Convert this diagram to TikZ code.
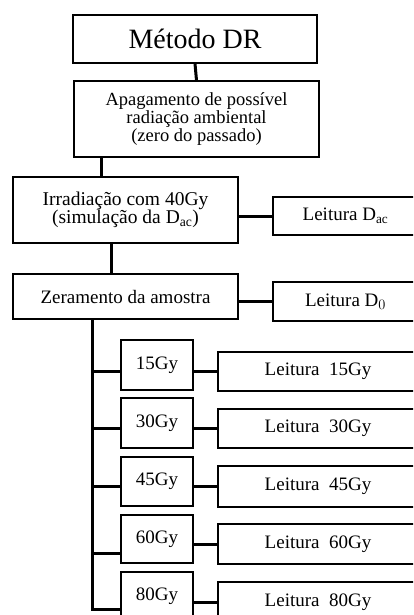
\documentclass[tikz,border=0pt]{standalone}
\usepackage{fontspec}
\setmainfont{Liberation Serif}
\begin{document}
\begin{tikzpicture}[x=1pt,y=-1pt,
  box/.style={draw=black,line width=1.4pt,inner sep=0pt,align=center,
    font=\fontsize{19}{18}\selectfont},
  conn/.style={draw=black,line width=3pt}]
\useasboundingbox (0,0) rectangle (413,615);
\clip (0,0) rectangle (413,615);
\fill[white] (0,0) rectangle (413,615);
% main column
\node[box,minimum width=244pt,minimum height=48pt,font=\fontsize{28}{30}\selectfont] (met) at (195,39) {Método DR};
\node[box,minimum width=245pt,minimum height=76pt,font=\fontsize{18.5}{18}\selectfont] (apa) at (196.5,119)
  {Apagamento de possível\\radiação ambiental\\(zero do passado)};
\node[box,minimum width=225pt,minimum height=66pt,font=\fontsize{19.5}{18}\selectfont] (irr) at (125.5,210)
  {Irradiação com 40Gy\\(simulação da D$_{\mathrm{ac}}$)};
\node[box,minimum width=145pt,minimum height=38pt] (ldac) at (345.5,216) {Leitura D$_{\mathrm{ac}}$};
\node[box,minimum width=225pt,minimum height=45pt] (zer) at (125.5,296.5) {Zeramento da amostra};
\node[box,minimum width=145pt,minimum height=39pt] (ld0) at (345.5,301.5) {Leitura D$_{0}$};
% dose boxes
\node[box,minimum width=72pt,minimum height=50pt] (b15) at (157,365) {15Gy};
\node[box,minimum width=200pt,minimum height=39pt] (l15) at (318,371.5) {Leitura\ \ 15Gy};
\node[box,minimum width=72pt,minimum height=50pt] (b30) at (157,423) {30Gy};
\node[box,minimum width=200pt,minimum height=39pt] (l30) at (318,428.5) {Leitura\ \ 30Gy};
\node[box,minimum width=72pt,minimum height=49pt] (b45) at (157,481.5) {45Gy};
\node[box,minimum width=200pt,minimum height=41pt] (l45) at (318,486.5) {Leitura\ \ 45Gy};
\node[box,minimum width=72pt,minimum height=48pt] (b60) at (157,539) {60Gy};
\node[box,minimum width=200pt,minimum height=40pt] (l60) at (318,544) {Leitura\ \ 60Gy};
\node[box,minimum width=72pt,minimum height=48pt] (b80) at (157,596) {80Gy};
\node[box,minimum width=200pt,minimum height=40pt] (l80) at (318,602) {Leitura\ \ 80Gy};
% connectors
\draw[conn] (met.south) -- (apa.north);
\draw[conn] ([xshift=89pt]irr.north west) -- ([xshift=89pt]irr.north west |- apa.south);
\draw[conn] ([xshift=99pt]zer.north west) -- ([xshift=99pt]zer.north west |- irr.south);
\draw[conn] (irr.east |- ldac.west) -- (ldac.west);
\draw[conn] (zer.east |- ld0.west) -- (ld0.west);
\coordinate (trunk) at ([xshift=80pt]zer.south west);
\draw[conn] (trunk) |- ([yshift=-13pt]b80.west);
\draw[conn] (trunk |- l15.west) -- (b15.west |- l15.west);
\draw[conn] (trunk |- l30.west) -- (b30.west |- l30.west);
\draw[conn] (trunk |- l45.west) -- (b45.west |- l45.west);
\draw[conn] ([yshift=-14pt]b60.west -| trunk) -- ([yshift=-14pt]b60.west);
\draw[conn] (b15.east |- l15.west) -- (l15.west);
\draw[conn] (b30.east |- l30.west) -- (l30.west);
\draw[conn] (b45.east |- l45.west) -- (l45.west);
\draw[conn] (b60.east |- l60.west) -- (l60.west);
\draw[conn] (b80.east |- l80.west) -- (l80.west);
\end{tikzpicture}
\end{document}
